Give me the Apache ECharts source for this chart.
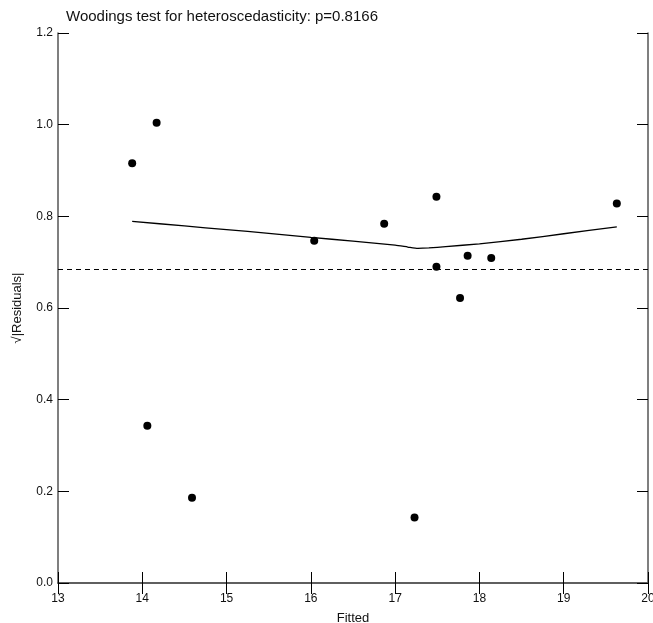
<!DOCTYPE html>
<html>
<head>
<meta charset="utf-8">
<script src="https://cdn.jsdelivr.net/npm/echarts@6/dist/echarts.min.js"></script>
<style>
  html, body { margin: 0; padding: 0; background: #fff; }
  #chart { width: 653px; height: 623px; }
</style>
</head>
<body>
<div id="chart"></div>
<script>
// 残差散点
var fittedX = [13.88, 14.17, 14.06, 14.59, 16.04, 16.87, 17.49, 17.49, 17.77, 17.86, 18.14, 17.23, 19.63]
var residY = [0.916, 1.004, 0.343, 0.186, 0.747, 0.784, 0.843, 0.690, 0.622, 0.714, 0.709, 0.143, 0.828]
// 平滑线
var smoothX = [13.88, 14.5, 15, 15.5, 16, 16.5, 17, 17.15, 17.27, 17.4, 17.6, 18, 18.5, 19, 19.63]
var smoothY = [0.789, 0.779, 0.771, 0.763, 0.754, 0.746, 0.737, 0.733, 0.730, 0.731, 0.734, 0.740, 0.750, 0.762, 0.777]
// 参考线
var refY = 0.684
var xRange = [13, 20]

var font = '"Liberation Sans Narrow", "Liberation Sans", Arial, sans-serif'
var axisColor = '#555'

var chart = echarts.init(document.getElementById('chart'))

function pairs(xs, ys) {
  return xs.map(function (x, i) { return [x, ys[i]] })
}

function axisBase(show) {
  return {
    type: 'value',
    axisLine: { show: true, lineStyle: { color: axisColor, width: 1.5 } },
    axisTick: { show: true, inside: true, length: 11, lineStyle: { color: '#000', width: 1 } },
    axisLabel: { show: show, color: '#111', fontFamily: font, fontSize: 12 },
    splitLine: { show: false }
  }
}

var xBottom = Object.assign(axisBase(true), {
  min: 13, max: 20, interval: 1, position: 'bottom',
  name: 'Fitted', nameLocation: 'middle', nameGap: 29,
  nameTextStyle: { color: '#111', fontFamily: font, fontSize: 13 }
})
xBottom.axisLabel.margin = 10
var xTop = Object.assign(axisBase(false), { min: 13, max: 20, interval: 1, position: 'top' })

var yLeft = Object.assign(axisBase(true), {
  min: 0, max: 1.2, interval: 0.2, position: 'left',
  name: '√|Residuals|', nameLocation: 'middle', nameGap: 34, nameRotate: 90,
  nameMoveOverlap: false,
  nameTextStyle: { color: '#111', fontFamily: font, fontSize: 13 }
})
yLeft.axisLabel.formatter = function (v) { return v.toFixed(1) }
yLeft.axisLabel.margin = 5
var yRight = Object.assign(axisBase(false), { min: 0, max: 1.2, interval: 0.2, position: 'right' })

chart.setOption({
  animation: false,
  title: {
    text: 'Woodings test for heteroscedasticity: p=0.8166',
    left: 61, top: 4,
    textStyle: { color: '#111', fontFamily: font, fontSize: 15, fontWeight: 'normal' }
  },
  grid: { left: 58, right: 5, top: 33, bottom: 40, containLabel: false, outerBoundsMode: 'none' },
  xAxis: [xBottom, xTop],
  yAxis: [yLeft, yRight],
  series: [
    {
      type: 'line',
      data: pairs(xRange, [refY, refY]),
      symbol: 'none',
      lineStyle: { color: '#000', width: 1.2, type: [5, 4] }
    },
    {
      type: 'line',
      data: pairs(smoothX, smoothY),
      symbol: 'none',
      smooth: 0.2,
      lineStyle: { color: '#000', width: 1.3 }
    },
    {
      type: 'scatter',
      data: pairs(fittedX, residY),
      symbol: 'circle',
      symbolSize: 8,
      itemStyle: { color: '#000', opacity: 1 }
    }
  ]
})
</script>
</body>
</html>
